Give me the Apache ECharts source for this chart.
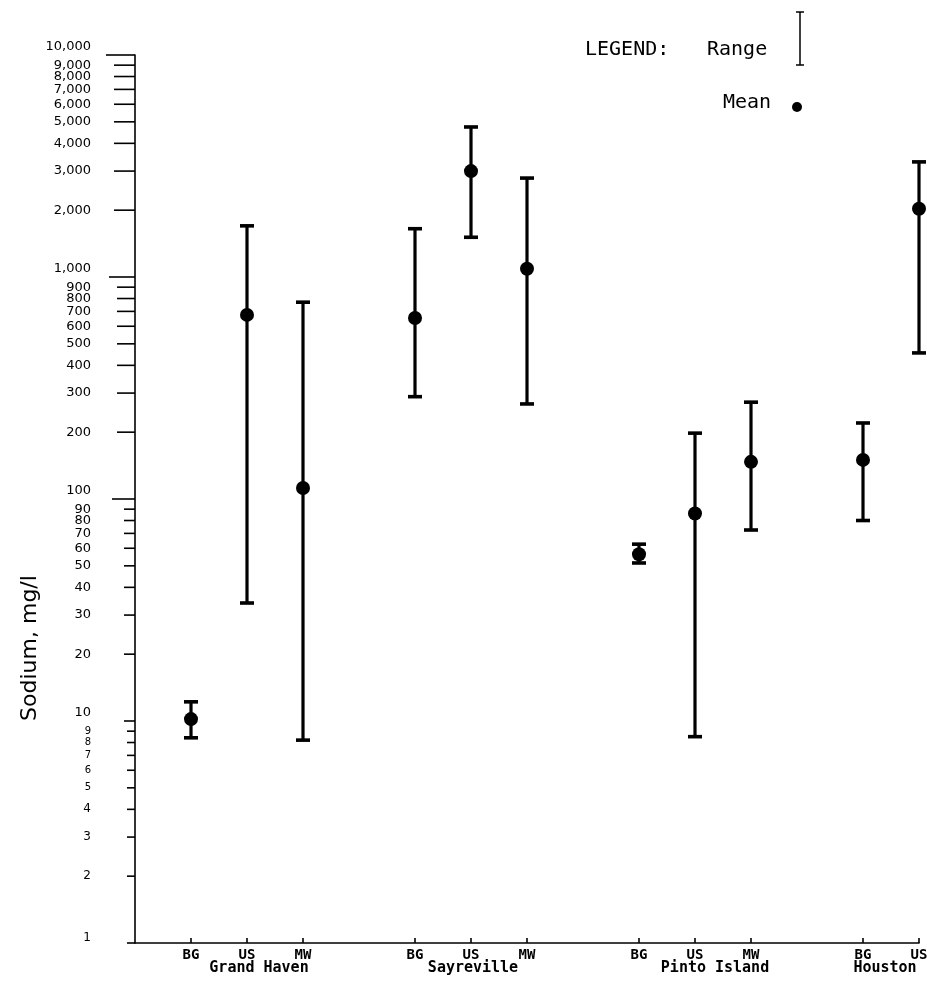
<!DOCTYPE html>
<html>
<head>
<meta charset="utf-8">
<script src="https://cdn.jsdelivr.net/npm/echarts@6/dist/echarts.min.js"></script>
<style>
  html, body { margin: 0; padding: 0; background: #fff; }
  #chart { width: 927px; height: 984px; }
</style>
</head>
<body>
<div id="chart"></div>
<script>
// ---- data ----
const xCategories = ['', 'BG', 'US', 'MW', '', 'BG', 'US', 'MW', '', 'BG', 'US', 'MW', '', 'BG', 'US'];
const sampleSlots = [1, 2, 3, 5, 6, 7, 9, 10, 11, 13, 14];
const meanValues = [10.2, 675, 112, 654, 3000, 1090, 56.4, 86, 147, 150, 2030];
const rangeLow  = [8.4, 34, 8.2, 289, 1510, 268, 51.5, 8.5, 72.5, 80, 455];
const rangeHigh = [12.2, 1700, 770, 1650, 4740, 2790, 62.6, 198, 273, 220, 3300];
const siteNames = ['Grand Haven', 'Sayreville', 'Pinto Island', 'Houston'];
const siteSlots = [2, 6, 10, 13];
const yTickValues = [1, 2, 3, 4, 5, 6, 7, 8, 9,
  10, 20, 30, 40, 50, 60, 70, 80, 90,
  100, 200, 300, 400, 500, 600, 700, 800, 900,
  1000, 2000, 3000, 4000, 5000, 6000, 7000, 8000, 9000, 10000];
const yTickLabels = ['1', '2', '3', '4', '5', '6', '7', '8', '9',
  '10', '20', '30', '40', '50', '60', '70', '80', '90',
  '100', '200', '300', '400', '500', '600', '700', '800', '900',
  '1,000', '2,000', '3,000', '4,000', '5,000', '6,000', '7,000', '8,000', '9,000', '10,000'];

// ---- layout / style helpers ----
const siteLabelDx = [12, 2, 20, 22];
const MONO = "'DejaVu Sans Mono', 'Liberation Mono', monospace";
const SANS = "'DejaVu Sans', 'Liberation Sans', sans-serif";

function tickStyle(v) {
  const dec = Math.floor(Math.log10(v) + 1e-9);
  const isPow = Math.abs(v - Math.pow(10, dec)) < 1e-6;
  const lens = {0: 8, 1: 11, 2: 18, 3: 21, 4: 24};
  let len = lens[dec];
  if (isPow && dec >= 2) len += 5;
  let size = 13;
  if (dec === 0) size = (v >= 5) ? 10 : 12;
  let dy = 0;
  if (isPow) dy = (dec === 0) ? -5 : -8;
  return { len: len, font: size + 'px ' + SANS, dy: dy };
}

const chart = echarts.init(document.getElementById('chart'), null, { renderer: 'canvas' });

const option = {
  animation: false,
  backgroundColor: '#ffffff',
  grid: { left: 135, right: 8, top: 55, bottom: 41, containLabel: false, outerBoundsMode: 'none' },
  xAxis: {
    type: 'category',
    data: xCategories,
    boundaryGap: false,
    axisLine: { show: true, lineStyle: { color: '#000', width: 1.6 } },
    axisTick: {
      show: true, inside: true, length: 5,
      interval: function (idx, val) { return val !== ''; },
      lineStyle: { color: '#000', width: 1.6 }
    },
    axisLabel: {
      interval: 0, margin: 5, color: '#000',
      fontFamily: MONO, fontWeight: 'bold', fontSize: 14
    },
    splitLine: { show: false }
  },
  yAxis: {
    type: 'log',
    logBase: 10,
    min: 1,
    max: 10000,
    axisLine: { show: true, lineStyle: { color: '#000', width: 1.6 } },
    axisTick: { show: false },
    axisLabel: { show: false },
    splitLine: { show: false },
    minorTick: { show: false }
  },
  graphic: [
    { type: 'text', x: 585, y: 50, style: { text: 'LEGEND:', font: '20px ' + MONO, fill: '#000', verticalAlign: 'middle' } },
    { type: 'text', x: 707, y: 50, style: { text: 'Range', font: '20px ' + MONO, fill: '#000', verticalAlign: 'middle' } },
    { type: 'line', shape: { x1: 800, y1: 12, x2: 800, y2: 65 }, style: { stroke: '#000', lineWidth: 1.5 } },
    { type: 'line', shape: { x1: 796, y1: 12, x2: 804, y2: 12 }, style: { stroke: '#000', lineWidth: 1.5 } },
    { type: 'line', shape: { x1: 796, y1: 65, x2: 804, y2: 65 }, style: { stroke: '#000', lineWidth: 1.5 } },
    { type: 'text', x: 723, y: 103, style: { text: 'Mean', font: '20px ' + MONO, fill: '#000', verticalAlign: 'middle' } },
    { type: 'circle', shape: { cx: 797, cy: 107, r: 5 }, style: { fill: '#000' } },
    { type: 'text', x: 30, y: 648, rotation: Math.PI / 2,
      style: { text: 'Sodium, mg/l', font: '22px ' + SANS, fill: '#000', align: 'center', verticalAlign: 'middle' } }
  ],
  series: [
    {
      name: 'yticks',
      type: 'custom',
      silent: true,
      clip: false,
      coordinateSystem: 'cartesian2d',
      encode: { x: 0, y: 1 },
      data: yTickValues.map(function (v) { return [0, v]; }),
      renderItem: function (params, api) {
        const v = api.value(1);
        const p = api.coord([0, v]);
        const st = tickStyle(v);
        return {
          type: 'group',
          children: [
            { type: 'line', shape: { x1: p[0] - st.len, y1: p[1], x2: p[0], y2: p[1] },
              style: { stroke: '#000', lineWidth: 1.6 } },
            { type: 'text', x: p[0] - 44, y: p[1] + st.dy,
              style: { text: yTickLabels[params.dataIndex], font: st.font, fill: '#000',
                       align: 'right', verticalAlign: 'middle' } }
          ]
        };
      }
    },
    {
      name: 'Range',
      type: 'custom',
      silent: true,
      clip: false,
      coordinateSystem: 'cartesian2d',
      encode: { x: 0, y: [1, 2] },
      data: sampleSlots.map(function (s, i) { return [s, rangeLow[i], rangeHigh[i]]; }),
      renderItem: function (params, api) {
        const x = api.value(0);
        const lo = api.coord([x, api.value(1)]);
        const hi = api.coord([x, api.value(2)]);
        const hw = 7;
        const st = { stroke: '#000', lineWidth: 3.2 };
        return {
          type: 'group',
          children: [
            { type: 'line', shape: { x1: lo[0], y1: lo[1], x2: hi[0], y2: hi[1] }, style: st },
            { type: 'line', shape: { x1: lo[0] - hw, y1: lo[1], x2: lo[0] + hw, y2: lo[1] }, style: { stroke: '#000', lineWidth: 3.6 } },
            { type: 'line', shape: { x1: hi[0] - hw, y1: hi[1], x2: hi[0] + hw, y2: hi[1] }, style: { stroke: '#000', lineWidth: 3.6 } }
          ]
        };
      }
    },
    {
      name: 'Mean',
      type: 'scatter',
      silent: true,
      symbol: 'circle',
      symbolSize: 14,
      itemStyle: { color: '#000', opacity: 1 },
      data: sampleSlots.map(function (s, i) { return [s, meanValues[i]]; })
    },
    {
      name: 'sites',
      type: 'scatter',
      silent: true,
      clip: false,
      symbolSize: 0,
      itemStyle: { opacity: 1 },
      data: siteSlots.map(function (s, i) {
        return { value: [s, 1], label: { offset: [siteLabelDx[i], 25] } };
      }),
      label: {
        show: true, position: 'inside', color: '#000', opacity: 1,
        fontFamily: MONO, fontWeight: 'bold', fontSize: 15,
        formatter: function (p) { return siteNames[p.dataIndex]; }
      }
    }
  ]
};

chart.setOption(option);
</script>
</body>
</html>
